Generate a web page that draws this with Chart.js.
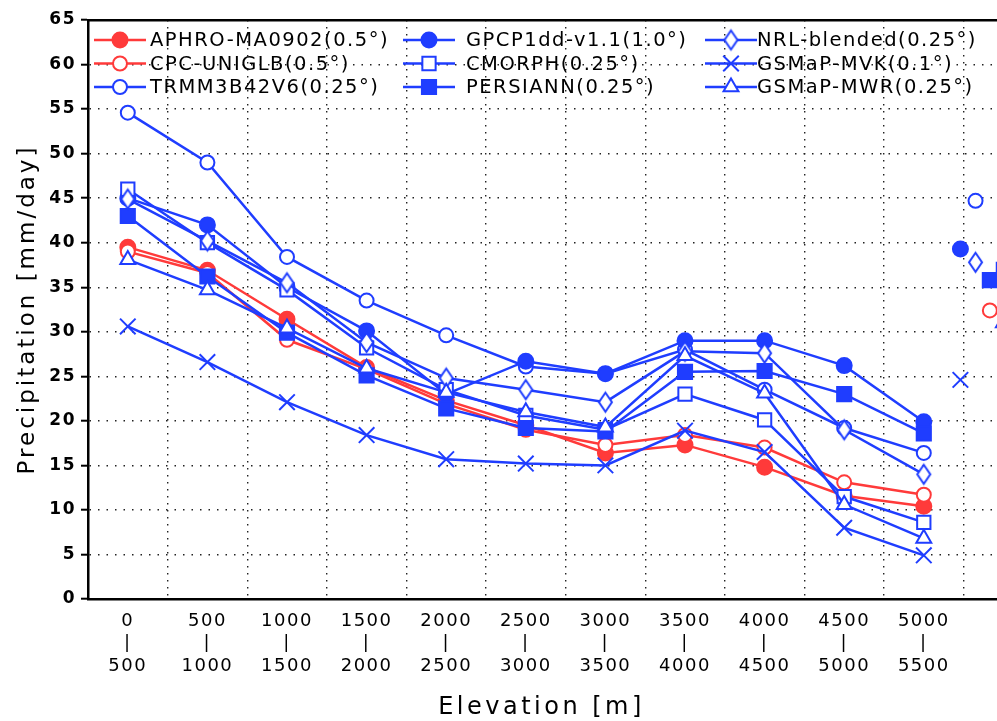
<!DOCTYPE html>
<html>
<head>
<meta charset="utf-8">
<script src="https://cdn.jsdelivr.net/npm/chart.js@4.4.1/dist/chart.umd.min.js"></script>
<style>
  html, body { margin: 0; padding: 0; overflow: hidden; background: #fff; width: 997px; height: 721px; }
  #wrap { position: absolute; left: 0; top: 0; width: 1083px; height: 721px; }
</style>
</head>
<body>
<div id="wrap"><canvas id="c" width="1083" height="721"></canvas></div>
<script>
// ---------------- data ----------------
const elevLow  = ['0', '500', '1000', '1500', '2000', '2500', '3000', '3500', '4000', '4500', '5000'];
const elevHigh = ['500', '1000', '1500', '2000', '2500', '3000', '3500', '4000', '4500', '5000', '5500'];

const seriesNames = [
  'APHRO-MA0902(0.5°)', 'CPC-UNIGLB(0.5°)', 'TRMM3B42V6(0.25°)',
  'GPCP1dd-v1.1(1.0°)', 'CMORPH(0.25°)', 'PERSIANN(0.25°)',
  'NRL-blended(0.25°)', 'GSMaP-MVK(0.1°)', 'GSMaP-MWR(0.25°)'
];

const aphro    = [39.5, 36.9, 31.4, 26.0, 22.3, 19.5, 16.4, 17.3, 14.8, 11.6, 10.4];
const cpc      = [39.0, 36.6, 29.1, 25.8, 21.9, 19.0, 17.3, 18.4, 17.0, 13.1, 11.7];
const trmm     = [54.6, 49.0, 38.4, 33.5, 29.6, 26.1, 25.3, 28.0, 23.5, 19.2, 16.4];
const gpcp     = [45.0, 42.0, 35.0, 30.1, 23.0, 26.7, 25.3, 29.0, 29.0, 26.2, 19.9];
const cmorph   = [46.0, 40.0, 34.7, 28.2, 23.5, 20.6, 19.0, 23.0, 20.1, 11.5, 8.6];
const persiann = [43.0, 36.2, 29.9, 25.1, 21.4, 19.2, 18.8, 25.5, 25.6, 23.0, 18.6];
const nrl      = [44.9, 40.2, 35.5, 28.8, 24.8, 23.5, 22.1, 27.8, 27.6, 19.0, 14.0];
const mvk      = [30.6, 26.6, 22.1, 18.4, 15.7, 15.2, 15.0, 18.9, 16.5, 8.0, 4.9];
const mwr      = [38.1, 34.7, 30.4, 25.9, 23.2, 21.0, 19.3, 27.3, 23.1, 10.6, 6.8];

// all-elevation group (partly cut off at the right edge); slot = position on the category axis
const overallValue = [null, 32.4, 44.7, 39.3, 37.0, 35.8, 37.8, 24.6, 31.0];
const overallSlot  = [null, 10.83, 10.65, 10.46, 11.0, 10.83, 10.65, 10.46, 11.0];

const seriesValues = [aphro, cpc, trmm, gpcp, cmorph, persiann, nrl, mvk, mwr];

// ---------------- styles ----------------
const FONT = '"DejaVu Sans", "Liberation Sans", sans-serif';
const BLUE = '#1f3dff';
const RED  = '#ff3a3a';
const LETTER_SPACING = '1.5px';
const Y_TITLE_SPACING = '3px';
const X_TITLE_SPACING = '3.5px';

function makeDiamond(w, h, lw, stroke, fill) {
  const c = document.createElement('canvas');
  c.width = Math.ceil(w + lw * 2 + 2);
  c.height = Math.ceil(h + lw * 2 + 2);
  const g = c.getContext('2d');
  const cx = c.width / 2, cy = c.height / 2;
  g.beginPath();
  g.moveTo(cx, cy - h / 2);
  g.lineTo(cx + w / 2, cy);
  g.lineTo(cx, cy + h / 2);
  g.lineTo(cx - w / 2, cy);
  g.closePath();
  g.fillStyle = fill;
  g.fill();
  g.lineWidth = lw;
  g.strokeStyle = stroke;
  g.stroke();
  return c;
}
const diamondImg = makeDiamond(13, 19, 2, BLUE, '#fff');

const seriesColor  = [RED, RED, BLUE, BLUE, BLUE, BLUE, BLUE, BLUE, BLUE];
const markerStyle  = ['circle', 'circle', 'circle', 'circle', 'rect', 'rect', diamondImg, 'crossRot', 'triangle'];
const markerFilled = [true, false, false, true, false, true, false, false, false];
const markerRadius = [7.5, 7, 7, 7.5, 9.4, 10, 9, 11, 8.6];

// ---------------- datasets ----------------
const datasets = seriesNames.map((name, k) => {
  const pts = seriesValues[k].map((v, i) => ({ x: i, y: v }));
  if (overallValue[k] !== null) pts.push({ x: overallSlot[k], y: overallValue[k] });
  const n = seriesValues[k].length;
  return {
    label: name,
    data: pts,
    borderColor: seriesColor[k],
    backgroundColor: seriesColor[k],
    borderWidth: 2.5,
    pointStyle: markerStyle[k],
    pointRadius: markerRadius[k],
    pointBorderWidth: 2,
    pointBorderColor: seriesColor[k],
    pointBackgroundColor: markerFilled[k] ? seriesColor[k] : '#ffffff',
    order: seriesNames.length - k,
    tension: 0,
    segment: {
      borderColor: ctx => (ctx.p1DataIndex >= n ? 'rgba(0,0,0,0)' : undefined)
    }
  };
});

// ---------------- plugins ----------------
// wrap a draw function so that its text is drawn with a wider letter spacing
function spaced(fn, spacing) {
  return function () {
    const c = this.ctx;
    c.save();
    c.letterSpacing = spacing;
    fn.apply(this, arguments);
    c.restore();
  };
}

const spacingPlugin = {
  id: 'spacing',
  beforeUpdate(chart) { chart.ctx.letterSpacing = LETTER_SPACING; },
  beforeLayout(chart) { chart.ctx.letterSpacing = LETTER_SPACING; },
  afterLayout(chart) {
    const s = chart.scales.y;
    if (s && !s.__patched) {
      s.drawTitle = spaced(s.drawTitle, Y_TITLE_SPACING);
      s.__patched = true;
    }
    const t = chart.titleBlock;
    if (t && !t.__patched) {
      t.draw = spaced(t.draw, X_TITLE_SPACING);
      t.__patched = true;
    }
  },
  beforeDraw(chart) { chart.ctx.letterSpacing = LETTER_SPACING; }
};

const LEG_X = [94, 403, 705];        // start of legend line per column
const LEG_TEXT_X = [150, 466, 757];  // start of legend text per column
const LEG_Y = [40, 63.5, 87];
const LEG_LINE = 52;

const legendPlugin = {
  id: 'colLegend',
  afterDraw(chart) {
    const ctx = chart.ctx;
    ctx.save();
    ctx.letterSpacing = LETTER_SPACING;
    ctx.font = '19.5px ' + FONT;
    ctx.textBaseline = 'middle';
    ctx.textAlign = 'left';
    chart.data.datasets.forEach((ds, k) => {
      const col = Math.floor(k / 3), row = k % 3;
      const x0 = LEG_X[col], y = LEG_Y[row];
      ctx.save();
      ctx.strokeStyle = ds.borderColor;
      ctx.lineWidth = ds.borderWidth;
      ctx.beginPath();
      ctx.moveTo(x0, y);
      ctx.lineTo(x0 + LEG_LINE, y);
      ctx.stroke();
      ctx.fillStyle = ds.pointBackgroundColor;
      ctx.strokeStyle = ds.pointBorderColor;
      ctx.lineWidth = ds.pointBorderWidth;
      Chart.helpers.drawPoint(ctx, { pointStyle: ds.pointStyle, radius: ds.pointRadius, borderWidth: ds.pointBorderWidth, rotation: 0 }, x0 + LEG_LINE / 2, y);
      ctx.restore();
      ctx.fillStyle = '#000';
      ctx.fillText(ds.label, LEG_TEXT_X[col], y + 1);
    });
    ctx.restore();
  }
};

const isHalf = v => Math.abs(v - Math.round(v)) > 0.25;

// ---------------- chart ----------------
new Chart(document.getElementById('c'), {
  type: 'line',
  data: { datasets },
  plugins: [spacingPlugin, legendPlugin],
  options: {
    responsive: false,
    animation: false,
    events: [],
    layout: { autoPadding: false, padding: { top: 20, left: 0, right: 0, bottom: 0 } },
    plugins: {
      legend: { display: false },
      tooltip: { enabled: false },
      title: {
        display: true,
        position: 'bottom',
        text: 'Elevation [m]',
        color: '#000',
        font: { family: FONT, size: 24, weight: 'normal', lineHeight: 1 },
        padding: { top: 0, bottom: 1 }
      }
    },
    scales: {
      x: {
        type: 'linear',
        position: 'bottom',
        min: -0.5,
        max: 12,
        afterFit(s) { s.height = 97; s.paddingRight = 0; s.paddingLeft = 0; },
        ticks: {
          stepSize: 0.5,
          autoSkip: false,
          maxRotation: 0,
          minRotation: 0,
          padding: 11,
          color: '#000',
          font: { family: FONT, size: 18, lineHeight: 1.25 },
          callback: v => {
            const r = Math.round(v);
            if (!isHalf(v) && r >= 0 && r < elevLow.length) return [elevLow[r], '|', elevHigh[r]];
            return '';
          }
        },
        grid: {
          color: ctx => (ctx.tick && isHalf(ctx.tick.value) && ctx.tick.value > -0.4) ? '#222' : 'rgba(0,0,0,0)',
          lineWidth: 1.4,
          drawTicks: false
        },
        border: { display: true, color: '#000', width: 2.5, dash: [1.5, 5.5] }
      },
      xTop: {
        type: 'linear',
        position: 'top',
        min: -0.5,
        max: 12,
        afterFit(s) { s.height = 0; s.paddingRight = 0; s.paddingLeft = 0; },
        ticks: { display: false },
        grid: { display: false, drawTicks: false },
        border: { display: true, color: '#000', width: 2.5 }
      },
      y: {
        min: 0,
        max: 65,
        afterFit(s) { s.width = 88; },
        ticks: {
          stepSize: 5,
          color: '#000',
          padding: 5,
          font: { family: FONT, size: 17, weight: 'bold' }
        },
        grid: {
          color: ctx => (ctx.tick && ctx.tick.value > 0 && ctx.tick.value < 65) ? '#222' : 'rgba(0,0,0,0)',
          lineWidth: 1.4,
          drawTicks: true,
          tickLength: 7,
          tickColor: '#000',
          tickWidth: 2
        },
        border: { display: true, color: '#000', width: 2.5, dash: [1.5, 7] },
        title: {
          display: true,
          text: 'Precipitation [mm/day]',
          color: '#000',
          font: { family: FONT, size: 23, lineHeight: 1 },
          padding: { top: 16.5, bottom: 0 }
        }
      }
    }
  }
});
</script>
</body>
</html>
